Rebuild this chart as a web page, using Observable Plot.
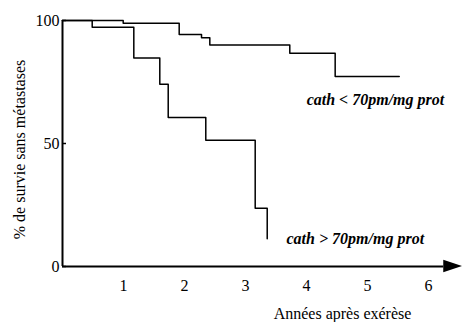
<!DOCTYPE html>
<html>
<head>
<meta charset="utf-8">
<script src="https://cdn.jsdelivr.net/npm/d3@7"></script>
<script src="https://cdn.jsdelivr.net/npm/@observablehq/plot@0.6"></script>
<style>
  html, body { margin: 0; padding: 0; background: #fff; }
  #chart svg { display: block; }
  #chart svg, #chart svg text { font-family: "Liberation Serif", "Times New Roman", serif !important; }
</style>
</head>
<body>
<div id="chart"></div>
<script>
// Upper curve: cath < 70pm/mg prot
const lowTimes  = [0, 0.995, 1.913, 2.279, 2.415, 3.726, 4.470, 5.520];
const lowSurv   = [100, 98.9, 94.3, 93.0, 90.0, 86.7, 77.2, 77.2];
// Lower curve: cath > 70pm/mg prot
const highTimes = [0, 0.487, 1.169, 1.595, 1.733, 2.349, 3.159, 3.356];
const highSurv  = [100, 97.3, 84.8, 74.1, 60.6, 51.3, 23.7, 11.3];

const xTicks = [1, 2, 3, 4, 5, 6];
const yTicks = [0, 50, 100];
const labelLow = "cath < 70pm/mg prot";
const labelHigh = "cath > 70pm/mg prot";
const xTitle = "Années après exérèse";
const yTitle = "% de survie sans métastases";

const lowData = lowTimes.map((t, i) => ({t, s: lowSurv[i]}));
const highData = highTimes.map((t, i) => ({t, s: highSurv[i]}));

const axisEnd = 6.25, arrowTip = 6.56, arrowHalf = 2.5;
const arrowHead = [
  {x: axisEnd, y1: -arrowHalf, y2: arrowHalf},
  {x: arrowTip, y1: 0, y2: 0}
];
const serif = "Liberation Serif";

const chart = Plot.plot({
  width: 462,
  height: 322,
  marginLeft: 62,
  marginRight: 34,
  marginTop: 20,
  marginBottom: 56,
  style: {fontFamily: serif, fontSize: "16px", color: "#000", background: "#fff"},
  x: {domain: [0, 6]},
  y: {domain: [0, 100]},
  marks: [
    Plot.axisX({ticks: xTicks, tickSize: 0, tickPadding: 13, fontSize: 16, fontFamily: serif, label: null, tickFormat: d => String(d)}),
    Plot.axisY({ticks: yTicks, tickSize: 0, tickPadding: 3, fontSize: 16, fontFamily: serif, label: null, tickFormat: d => String(d)}),
    Plot.ruleY(yTicks, {x1: 0, x2: 0.066, stroke: "#000", strokeWidth: 1.5}),
    Plot.ruleX([0], {y1: 0, y2: 100, stroke: "#000", strokeWidth: 2}),
    Plot.ruleY([0], {x1: 0, x2: axisEnd, stroke: "#000", strokeWidth: 2}),
    Plot.areaY(arrowHead, {x: "x", y1: "y1", y2: "y2", fill: "#000"}),
    Plot.line(lowData, {x: "t", y: "s", curve: "step-after", stroke: "#000", strokeWidth: 1.5}),
    Plot.line(highData, {x: "t", y: "s", curve: "step-after", stroke: "#000", strokeWidth: 1.5}),
    Plot.text([labelLow], {x: 5.13, y: 67.8, text: d => d, fontFamily: serif, fontWeight: "bold", fontStyle: "italic", fontSize: 16, textAnchor: "middle", lineAnchor: "middle"}),
    Plot.text([labelHigh], {x: 4.80, y: 11.2, text: d => d, fontFamily: serif, fontWeight: "bold", fontStyle: "italic", fontSize: 16, textAnchor: "middle", lineAnchor: "middle"}),
    Plot.text([xTitle], {x: 4.59, frameAnchor: "bottom", dy: 47, text: d => d, fontFamily: serif, fontSize: 16, textAnchor: "middle", lineAnchor: "middle"}),
    Plot.text([yTitle], {frameAnchor: "left", dx: -43, dy: 6, rotate: -90, text: d => d, fontFamily: serif, fontSize: 16, textAnchor: "middle", lineAnchor: "middle"})
  ]
});
document.getElementById("chart").appendChild(chart);
</script>
</body>
</html>
